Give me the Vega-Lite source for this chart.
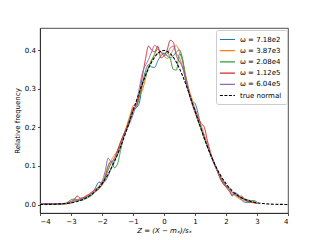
{
  "$schema": "https://vega.github.io/schema/vega-lite/v6.json",
  "autosize": {"type": "none"},
  "padding": {"left": 40, "top": 28, "right": 32, "bottom": 27},
  "width": 248,
  "height": 185,
  "background": "white",
  "config": {
    "font": "DejaVu Sans",
    "view": {"stroke": "#222", "strokeWidth": 0.8},
    "axis": {
      "grid": false,
      "domainColor": "#222",
      "domainWidth": 0.8,
      "tickColor": "#222",
      "tickWidth": 0.8,
      "tickSize": 2.5,
      "labelPadding": 2,
      "labelFontSize": 7,
      "labelColor": "#000",
      "titleFontSize": 7,
      "titleFontWeight": "normal",
      "titleColor": "#000"
    },
    "legend": {
      "orient": "top-right",
      "offset": 1.5,
      "padding": 5,
      "strokeColor": "#ccc",
      "fillColor": "white",
      "cornerRadius": 2,
      "symbolType": "M-1.6,0H2.7",
      "symbolSize": 49,
      "symbolStrokeWidth": 1.2,
      "labelFontSize": 7,
      "labelColor": "#000",
      "rowPadding": 3.2,
      "labelOffset": 10,
      "title": null
    }
  },
  "datasets": {
    "curves": [
      {"s":"ω = 7.18e2","x":-4,"y":0.002},{"s":"ω = 7.18e2","x":-3.5,"y":0.001},{"s":"ω = 7.18e2","x":-3.2,"y":0.002},
      {"s":"ω = 7.18e2","x":-3.0,"y":0.004},{"s":"ω = 7.18e2","x":-2.9,"y":0.007},{"s":"ω = 7.18e2","x":-2.8,"y":0.010},{"s":"ω = 7.18e2","x":-2.7,"y":0.012},{"s":"ω = 7.18e2","x":-2.6,"y":0.016},{"s":"ω = 7.18e2","x":-2.5,"y":0.020},{"s":"ω = 7.18e2","x":-2.4,"y":0.024},{"s":"ω = 7.18e2","x":-2.3,"y":0.030},{"s":"ω = 7.18e2","x":-2.2,"y":0.045},{"s":"ω = 7.18e2","x":-2.1,"y":0.058},{"s":"ω = 7.18e2","x":-2.0,"y":0.055},{"s":"ω = 7.18e2","x":-1.9,"y":0.060},{"s":"ω = 7.18e2","x":-1.8,"y":0.075},{"s":"ω = 7.18e2","x":-1.7,"y":0.095},{"s":"ω = 7.18e2","x":-1.6,"y":0.112},{"s":"ω = 7.18e2","x":-1.5,"y":0.135},{"s":"ω = 7.18e2","x":-1.4,"y":0.160},{"s":"ω = 7.18e2","x":-1.3,"y":0.180},{"s":"ω = 7.18e2","x":-1.2,"y":0.195},{"s":"ω = 7.18e2","x":-1.1,"y":0.215},{"s":"ω = 7.18e2","x":-1.0,"y":0.240},{"s":"ω = 7.18e2","x":-0.9,"y":0.250},{"s":"ω = 7.18e2","x":-0.8,"y":0.262},{"s":"ω = 7.18e2","x":-0.7,"y":0.310},{"s":"ω = 7.18e2","x":-0.6,"y":0.345},{"s":"ω = 7.18e2","x":-0.5,"y":0.362},{"s":"ω = 7.18e2","x":-0.4,"y":0.356},{"s":"ω = 7.18e2","x":-0.3,"y":0.355},{"s":"ω = 7.18e2","x":-0.2,"y":0.372},{"s":"ω = 7.18e2","x":-0.1,"y":0.385},{"s":"ω = 7.18e2","x":0.0,"y":0.392},{"s":"ω = 7.18e2","x":0.1,"y":0.385},{"s":"ω = 7.18e2","x":0.2,"y":0.380},{"s":"ω = 7.18e2","x":0.3,"y":0.385},{"s":"ω = 7.18e2","x":0.4,"y":0.395},{"s":"ω = 7.18e2","x":0.5,"y":0.400},{"s":"ω = 7.18e2","x":0.6,"y":0.375},{"s":"ω = 7.18e2","x":0.7,"y":0.320},{"s":"ω = 7.18e2","x":0.8,"y":0.290},{"s":"ω = 7.18e2","x":0.9,"y":0.268},{"s":"ω = 7.18e2","x":1.0,"y":0.262},{"s":"ω = 7.18e2","x":1.1,"y":0.235},{"s":"ω = 7.18e2","x":1.2,"y":0.200},{"s":"ω = 7.18e2","x":1.3,"y":0.178},{"s":"ω = 7.18e2","x":1.4,"y":0.150},{"s":"ω = 7.18e2","x":1.5,"y":0.130},{"s":"ω = 7.18e2","x":1.6,"y":0.110},{"s":"ω = 7.18e2","x":1.7,"y":0.090},{"s":"ω = 7.18e2","x":1.8,"y":0.072},{"s":"ω = 7.18e2","x":1.9,"y":0.058},{"s":"ω = 7.18e2","x":2.0,"y":0.050},{"s":"ω = 7.18e2","x":2.1,"y":0.042},{"s":"ω = 7.18e2","x":2.2,"y":0.022},{"s":"ω = 7.18e2","x":2.3,"y":0.030},{"s":"ω = 7.18e2","x":2.4,"y":0.025},{"s":"ω = 7.18e2","x":2.5,"y":0.012},{"s":"ω = 7.18e2","x":2.6,"y":0.006},{"s":"ω = 7.18e2","x":2.7,"y":0.005},{"s":"ω = 7.18e2","x":2.8,"y":0.006},{"s":"ω = 7.18e2","x":2.9,"y":0.005},{"s":"ω = 7.18e2","x":3.0,"y":0.003},

      {"s":"ω = 3.87e3","x":-4,"y":0.002},{"s":"ω = 3.87e3","x":-3.5,"y":0.002},{"s":"ω = 3.87e3","x":-3.2,"y":0.001},
      {"s":"ω = 3.87e3","x":-3.0,"y":0.005},{"s":"ω = 3.87e3","x":-2.9,"y":0.008},{"s":"ω = 3.87e3","x":-2.8,"y":0.012},{"s":"ω = 3.87e3","x":-2.7,"y":0.016},{"s":"ω = 3.87e3","x":-2.6,"y":0.018},{"s":"ω = 3.87e3","x":-2.5,"y":0.024},{"s":"ω = 3.87e3","x":-2.4,"y":0.026},{"s":"ω = 3.87e3","x":-2.3,"y":0.032},{"s":"ω = 3.87e3","x":-2.2,"y":0.040},{"s":"ω = 3.87e3","x":-2.1,"y":0.048},{"s":"ω = 3.87e3","x":-2.0,"y":0.058},{"s":"ω = 3.87e3","x":-1.9,"y":0.075},{"s":"ω = 3.87e3","x":-1.8,"y":0.100},{"s":"ω = 3.87e3","x":-1.7,"y":0.115},{"s":"ω = 3.87e3","x":-1.6,"y":0.128},{"s":"ω = 3.87e3","x":-1.5,"y":0.140},{"s":"ω = 3.87e3","x":-1.4,"y":0.160},{"s":"ω = 3.87e3","x":-1.3,"y":0.180},{"s":"ω = 3.87e3","x":-1.2,"y":0.205},{"s":"ω = 3.87e3","x":-1.1,"y":0.230},{"s":"ω = 3.87e3","x":-1.0,"y":0.255},{"s":"ω = 3.87e3","x":-0.9,"y":0.262},{"s":"ω = 3.87e3","x":-0.8,"y":0.280},{"s":"ω = 3.87e3","x":-0.7,"y":0.295},{"s":"ω = 3.87e3","x":-0.6,"y":0.325},{"s":"ω = 3.87e3","x":-0.5,"y":0.355},{"s":"ω = 3.87e3","x":-0.4,"y":0.375},{"s":"ω = 3.87e3","x":-0.3,"y":0.385},{"s":"ω = 3.87e3","x":-0.2,"y":0.392},{"s":"ω = 3.87e3","x":-0.1,"y":0.395},{"s":"ω = 3.87e3","x":0.0,"y":0.385},{"s":"ω = 3.87e3","x":0.1,"y":0.378},{"s":"ω = 3.87e3","x":0.2,"y":0.385},{"s":"ω = 3.87e3","x":0.3,"y":0.402},{"s":"ω = 3.87e3","x":0.4,"y":0.412},{"s":"ω = 3.87e3","x":0.5,"y":0.395},{"s":"ω = 3.87e3","x":0.6,"y":0.370},{"s":"ω = 3.87e3","x":0.7,"y":0.335},{"s":"ω = 3.87e3","x":0.8,"y":0.300},{"s":"ω = 3.87e3","x":0.9,"y":0.275},{"s":"ω = 3.87e3","x":1.0,"y":0.248},{"s":"ω = 3.87e3","x":1.1,"y":0.225},{"s":"ω = 3.87e3","x":1.2,"y":0.205},{"s":"ω = 3.87e3","x":1.3,"y":0.180},{"s":"ω = 3.87e3","x":1.4,"y":0.155},{"s":"ω = 3.87e3","x":1.5,"y":0.130},{"s":"ω = 3.87e3","x":1.6,"y":0.108},{"s":"ω = 3.87e3","x":1.7,"y":0.090},{"s":"ω = 3.87e3","x":1.8,"y":0.070},{"s":"ω = 3.87e3","x":1.9,"y":0.055},{"s":"ω = 3.87e3","x":2.0,"y":0.046},{"s":"ω = 3.87e3","x":2.1,"y":0.038},{"s":"ω = 3.87e3","x":2.2,"y":0.030},{"s":"ω = 3.87e3","x":2.3,"y":0.022},{"s":"ω = 3.87e3","x":2.4,"y":0.016},{"s":"ω = 3.87e3","x":2.5,"y":0.012},{"s":"ω = 3.87e3","x":2.6,"y":0.010},{"s":"ω = 3.87e3","x":2.7,"y":0.008},{"s":"ω = 3.87e3","x":2.8,"y":0.006},{"s":"ω = 3.87e3","x":2.9,"y":0.004},{"s":"ω = 3.87e3","x":3.0,"y":0.003},

      {"s":"ω = 2.08e4","x":-4,"y":0.002},{"s":"ω = 2.08e4","x":-3.5,"y":0.001},{"s":"ω = 2.08e4","x":-3.2,"y":0.002},
      {"s":"ω = 2.08e4","x":-3.0,"y":0.012},{"s":"ω = 2.08e4","x":-2.9,"y":0.014},{"s":"ω = 2.08e4","x":-2.8,"y":0.012},{"s":"ω = 2.08e4","x":-2.7,"y":0.010},{"s":"ω = 2.08e4","x":-2.6,"y":0.012},{"s":"ω = 2.08e4","x":-2.5,"y":0.016},{"s":"ω = 2.08e4","x":-2.4,"y":0.020},{"s":"ω = 2.08e4","x":-2.3,"y":0.026},{"s":"ω = 2.08e4","x":-2.2,"y":0.034},{"s":"ω = 2.08e4","x":-2.1,"y":0.040},{"s":"ω = 2.08e4","x":-2.0,"y":0.052},{"s":"ω = 2.08e4","x":-1.9,"y":0.072},{"s":"ω = 2.08e4","x":-1.8,"y":0.100},{"s":"ω = 2.08e4","x":-1.7,"y":0.112},{"s":"ω = 2.08e4","x":-1.6,"y":0.095},{"s":"ω = 2.08e4","x":-1.5,"y":0.105},{"s":"ω = 2.08e4","x":-1.4,"y":0.140},{"s":"ω = 2.08e4","x":-1.3,"y":0.175},{"s":"ω = 2.08e4","x":-1.2,"y":0.200},{"s":"ω = 2.08e4","x":-1.1,"y":0.225},{"s":"ω = 2.08e4","x":-1.0,"y":0.245},{"s":"ω = 2.08e4","x":-0.9,"y":0.250},{"s":"ω = 2.08e4","x":-0.8,"y":0.275},{"s":"ω = 2.08e4","x":-0.7,"y":0.310},{"s":"ω = 2.08e4","x":-0.6,"y":0.335},{"s":"ω = 2.08e4","x":-0.5,"y":0.355},{"s":"ω = 2.08e4","x":-0.4,"y":0.372},{"s":"ω = 2.08e4","x":-0.3,"y":0.390},{"s":"ω = 2.08e4","x":-0.2,"y":0.402},{"s":"ω = 2.08e4","x":-0.1,"y":0.395},{"s":"ω = 2.08e4","x":0.0,"y":0.390},{"s":"ω = 2.08e4","x":0.1,"y":0.395},{"s":"ω = 2.08e4","x":0.2,"y":0.378},{"s":"ω = 2.08e4","x":0.3,"y":0.350},{"s":"ω = 2.08e4","x":0.4,"y":0.348},{"s":"ω = 2.08e4","x":0.5,"y":0.390},{"s":"ω = 2.08e4","x":0.6,"y":0.375},{"s":"ω = 2.08e4","x":0.7,"y":0.330},{"s":"ω = 2.08e4","x":0.8,"y":0.295},{"s":"ω = 2.08e4","x":0.9,"y":0.265},{"s":"ω = 2.08e4","x":1.0,"y":0.240},{"s":"ω = 2.08e4","x":1.1,"y":0.215},{"s":"ω = 2.08e4","x":1.2,"y":0.195},{"s":"ω = 2.08e4","x":1.3,"y":0.170},{"s":"ω = 2.08e4","x":1.4,"y":0.150},{"s":"ω = 2.08e4","x":1.5,"y":0.128},{"s":"ω = 2.08e4","x":1.6,"y":0.110},{"s":"ω = 2.08e4","x":1.7,"y":0.092},{"s":"ω = 2.08e4","x":1.8,"y":0.075},{"s":"ω = 2.08e4","x":1.9,"y":0.060},{"s":"ω = 2.08e4","x":2.0,"y":0.048},{"s":"ω = 2.08e4","x":2.1,"y":0.040},{"s":"ω = 2.08e4","x":2.2,"y":0.032},{"s":"ω = 2.08e4","x":2.3,"y":0.025},{"s":"ω = 2.08e4","x":2.4,"y":0.020},{"s":"ω = 2.08e4","x":2.5,"y":0.018},{"s":"ω = 2.08e4","x":2.6,"y":0.015},{"s":"ω = 2.08e4","x":2.7,"y":0.012},{"s":"ω = 2.08e4","x":2.8,"y":0.010},{"s":"ω = 2.08e4","x":2.9,"y":0.010},{"s":"ω = 2.08e4","x":3.0,"y":0.006},

      {"s":"ω = 1.12e5","x":-4,"y":0.003},{"s":"ω = 1.12e5","x":-3.5,"y":0.002},{"s":"ω = 1.12e5","x":-3.2,"y":0.003},
      {"s":"ω = 1.12e5","x":-3.0,"y":0.008},{"s":"ω = 1.12e5","x":-2.9,"y":0.012},{"s":"ω = 1.12e5","x":-2.8,"y":0.022},{"s":"ω = 1.12e5","x":-2.7,"y":0.016},{"s":"ω = 1.12e5","x":-2.6,"y":0.018},{"s":"ω = 1.12e5","x":-2.5,"y":0.022},{"s":"ω = 1.12e5","x":-2.4,"y":0.028},{"s":"ω = 1.12e5","x":-2.3,"y":0.034},{"s":"ω = 1.12e5","x":-2.2,"y":0.040},{"s":"ω = 1.12e5","x":-2.1,"y":0.044},{"s":"ω = 1.12e5","x":-2.0,"y":0.050},{"s":"ω = 1.12e5","x":-1.9,"y":0.068},{"s":"ω = 1.12e5","x":-1.8,"y":0.090},{"s":"ω = 1.12e5","x":-1.7,"y":0.108},{"s":"ω = 1.12e5","x":-1.6,"y":0.120},{"s":"ω = 1.12e5","x":-1.5,"y":0.140},{"s":"ω = 1.12e5","x":-1.4,"y":0.162},{"s":"ω = 1.12e5","x":-1.3,"y":0.182},{"s":"ω = 1.12e5","x":-1.2,"y":0.200},{"s":"ω = 1.12e5","x":-1.1,"y":0.220},{"s":"ω = 1.12e5","x":-1.0,"y":0.250},{"s":"ω = 1.12e5","x":-0.9,"y":0.255},{"s":"ω = 1.12e5","x":-0.8,"y":0.285},{"s":"ω = 1.12e5","x":-0.7,"y":0.330},{"s":"ω = 1.12e5","x":-0.6,"y":0.375},{"s":"ω = 1.12e5","x":-0.5,"y":0.410},{"s":"ω = 1.12e5","x":-0.4,"y":0.400},{"s":"ω = 1.12e5","x":-0.3,"y":0.395},{"s":"ω = 1.12e5","x":-0.2,"y":0.410},{"s":"ω = 1.12e5","x":-0.1,"y":0.380},{"s":"ω = 1.12e5","x":0.0,"y":0.385},{"s":"ω = 1.12e5","x":0.1,"y":0.400},{"s":"ω = 1.12e5","x":0.2,"y":0.425},{"s":"ω = 1.12e5","x":0.3,"y":0.420},{"s":"ω = 1.12e5","x":0.4,"y":0.385},{"s":"ω = 1.12e5","x":0.5,"y":0.370},{"s":"ω = 1.12e5","x":0.6,"y":0.355},{"s":"ω = 1.12e5","x":0.7,"y":0.325},{"s":"ω = 1.12e5","x":0.8,"y":0.290},{"s":"ω = 1.12e5","x":0.9,"y":0.262},{"s":"ω = 1.12e5","x":1.0,"y":0.245},{"s":"ω = 1.12e5","x":1.1,"y":0.225},{"s":"ω = 1.12e5","x":1.2,"y":0.210},{"s":"ω = 1.12e5","x":1.3,"y":0.200},{"s":"ω = 1.12e5","x":1.4,"y":0.165},{"s":"ω = 1.12e5","x":1.5,"y":0.135},{"s":"ω = 1.12e5","x":1.6,"y":0.112},{"s":"ω = 1.12e5","x":1.7,"y":0.092},{"s":"ω = 1.12e5","x":1.8,"y":0.070},{"s":"ω = 1.12e5","x":1.9,"y":0.055},{"s":"ω = 1.12e5","x":2.0,"y":0.045},{"s":"ω = 1.12e5","x":2.1,"y":0.035},{"s":"ω = 1.12e5","x":2.2,"y":0.025},{"s":"ω = 1.12e5","x":2.3,"y":0.028},{"s":"ω = 1.12e5","x":2.4,"y":0.020},{"s":"ω = 1.12e5","x":2.5,"y":0.022},{"s":"ω = 1.12e5","x":2.6,"y":0.012},{"s":"ω = 1.12e5","x":2.7,"y":0.008},{"s":"ω = 1.12e5","x":2.8,"y":0.006},{"s":"ω = 1.12e5","x":2.9,"y":0.005},{"s":"ω = 1.12e5","x":3.0,"y":0.003},

      {"s":"ω = 6.04e5","x":-4,"y":0.002},{"s":"ω = 6.04e5","x":-3.5,"y":0.002},{"s":"ω = 6.04e5","x":-3.2,"y":0.002},
      {"s":"ω = 6.04e5","x":-3.0,"y":0.006},{"s":"ω = 6.04e5","x":-2.9,"y":0.010},{"s":"ω = 6.04e5","x":-2.8,"y":0.012},{"s":"ω = 6.04e5","x":-2.7,"y":0.014},{"s":"ω = 6.04e5","x":-2.6,"y":0.016},{"s":"ω = 6.04e5","x":-2.5,"y":0.020},{"s":"ω = 6.04e5","x":-2.4,"y":0.025},{"s":"ω = 6.04e5","x":-2.3,"y":0.030},{"s":"ω = 6.04e5","x":-2.2,"y":0.036},{"s":"ω = 6.04e5","x":-2.1,"y":0.045},{"s":"ω = 6.04e5","x":-2.0,"y":0.060},{"s":"ω = 6.04e5","x":-1.9,"y":0.085},{"s":"ω = 6.04e5","x":-1.8,"y":0.120},{"s":"ω = 6.04e5","x":-1.7,"y":0.110},{"s":"ω = 6.04e5","x":-1.6,"y":0.115},{"s":"ω = 6.04e5","x":-1.5,"y":0.128},{"s":"ω = 6.04e5","x":-1.4,"y":0.150},{"s":"ω = 6.04e5","x":-1.3,"y":0.175},{"s":"ω = 6.04e5","x":-1.2,"y":0.195},{"s":"ω = 6.04e5","x":-1.1,"y":0.212},{"s":"ω = 6.04e5","x":-1.0,"y":0.232},{"s":"ω = 6.04e5","x":-0.9,"y":0.260},{"s":"ω = 6.04e5","x":-0.8,"y":0.300},{"s":"ω = 6.04e5","x":-0.7,"y":0.340},{"s":"ω = 6.04e5","x":-0.6,"y":0.360},{"s":"ω = 6.04e5","x":-0.5,"y":0.375},{"s":"ω = 6.04e5","x":-0.4,"y":0.395},{"s":"ω = 6.04e5","x":-0.3,"y":0.412},{"s":"ω = 6.04e5","x":-0.2,"y":0.405},{"s":"ω = 6.04e5","x":-0.1,"y":0.395},{"s":"ω = 6.04e5","x":0.0,"y":0.385},{"s":"ω = 6.04e5","x":0.1,"y":0.390},{"s":"ω = 6.04e5","x":0.2,"y":0.405},{"s":"ω = 6.04e5","x":0.3,"y":0.410},{"s":"ω = 6.04e5","x":0.4,"y":0.390},{"s":"ω = 6.04e5","x":0.5,"y":0.380},{"s":"ω = 6.04e5","x":0.6,"y":0.355},{"s":"ω = 6.04e5","x":0.7,"y":0.325},{"s":"ω = 6.04e5","x":0.8,"y":0.295},{"s":"ω = 6.04e5","x":0.9,"y":0.262},{"s":"ω = 6.04e5","x":1.0,"y":0.238},{"s":"ω = 6.04e5","x":1.1,"y":0.220},{"s":"ω = 6.04e5","x":1.2,"y":0.198},{"s":"ω = 6.04e5","x":1.3,"y":0.175},{"s":"ω = 6.04e5","x":1.4,"y":0.152},{"s":"ω = 6.04e5","x":1.5,"y":0.130},{"s":"ω = 6.04e5","x":1.6,"y":0.108},{"s":"ω = 6.04e5","x":1.7,"y":0.090},{"s":"ω = 6.04e5","x":1.8,"y":0.075},{"s":"ω = 6.04e5","x":1.9,"y":0.062},{"s":"ω = 6.04e5","x":2.0,"y":0.050},{"s":"ω = 6.04e5","x":2.1,"y":0.040},{"s":"ω = 6.04e5","x":2.2,"y":0.032},{"s":"ω = 6.04e5","x":2.3,"y":0.026},{"s":"ω = 6.04e5","x":2.4,"y":0.020},{"s":"ω = 6.04e5","x":2.5,"y":0.016},{"s":"ω = 6.04e5","x":2.6,"y":0.012},{"s":"ω = 6.04e5","x":2.7,"y":0.010},{"s":"ω = 6.04e5","x":2.8,"y":0.008},{"s":"ω = 6.04e5","x":2.9,"y":0.006},{"s":"ω = 6.04e5","x":3.0,"y":0.004}
    ],
    "normal": [
      {"s":"true normal","x":-4.0,"y":0.0001},{"s":"true normal","x":-3.8,"y":0.0003},{"s":"true normal","x":-3.6,"y":0.0006},{"s":"true normal","x":-3.4,"y":0.0012},{"s":"true normal","x":-3.2,"y":0.0024},{"s":"true normal","x":-3.0,"y":0.0044},{"s":"true normal","x":-2.8,"y":0.0079},{"s":"true normal","x":-2.6,"y":0.0136},{"s":"true normal","x":-2.4,"y":0.0224},{"s":"true normal","x":-2.2,"y":0.0355},{"s":"true normal","x":-2.0,"y":0.0540},{"s":"true normal","x":-1.8,"y":0.0790},{"s":"true normal","x":-1.6,"y":0.1109},{"s":"true normal","x":-1.4,"y":0.1497},{"s":"true normal","x":-1.2,"y":0.1942},{"s":"true normal","x":-1.0,"y":0.2420},{"s":"true normal","x":-0.8,"y":0.2897},{"s":"true normal","x":-0.6,"y":0.3332},{"s":"true normal","x":-0.4,"y":0.3683},{"s":"true normal","x":-0.2,"y":0.3910},{"s":"true normal","x":0.0,"y":0.3989},{"s":"true normal","x":0.2,"y":0.3910},{"s":"true normal","x":0.4,"y":0.3683},{"s":"true normal","x":0.6,"y":0.3332},{"s":"true normal","x":0.8,"y":0.2897},{"s":"true normal","x":1.0,"y":0.2420},{"s":"true normal","x":1.2,"y":0.1942},{"s":"true normal","x":1.4,"y":0.1497},{"s":"true normal","x":1.6,"y":0.1109},{"s":"true normal","x":1.8,"y":0.0790},{"s":"true normal","x":2.0,"y":0.0540},{"s":"true normal","x":2.2,"y":0.0355},{"s":"true normal","x":2.4,"y":0.0224},{"s":"true normal","x":2.6,"y":0.0136},{"s":"true normal","x":2.8,"y":0.0079},{"s":"true normal","x":3.0,"y":0.0044},{"s":"true normal","x":3.2,"y":0.0024},{"s":"true normal","x":3.4,"y":0.0012},{"s":"true normal","x":3.6,"y":0.0006},{"s":"true normal","x":3.8,"y":0.0003},{"s":"true normal","x":4.0,"y":0.0001}
    ]
  },
  "encoding": {
    "x": {"field": "x", "type": "quantitative", "scale": {"domain": [-4, 4], "nice": false, "zero": false},
          "axis": {"values": [-4,-3,-2,-1,0,1,2,3,4], "format": "d", "title": "Z = (X − mₓ)/sₓ", "titleFontStyle": "italic", "titlePadding": 2}},
    "y": {"field": "y", "type": "quantitative", "scale": {"domain": [-0.022, 0.457], "nice": false, "zero": false},
          "axis": {"values": [0, 0.1, 0.2, 0.3, 0.4], "format": ".1f", "title": "Relative frequency", "titlePadding": 4}},
    "color": {"field": "s", "type": "nominal",
      "scale": {"domain": ["ω = 7.18e2","ω = 3.87e3","ω = 2.08e4","ω = 1.12e5","ω = 6.04e5","true normal"],
                "range": ["#1f77b4","#ff7f0e","#2ca02c","#d62728","#9467bd","#000000"]}},
    "strokeDash": {"field": "s", "type": "nominal",
      "scale": {"domain": ["ω = 7.18e2","ω = 3.87e3","ω = 2.08e4","ω = 1.12e5","ω = 6.04e5","true normal"],
                "range": [[1,0],[1,0],[1,0],[1,0],[1,0],[3,1.5]]}}
  },
  "layer": [
    {"data": {"name": "curves"}, "mark": {"type": "line", "strokeWidth": 1, "interpolate": "monotone"}},
    {"data": {"name": "normal"}, "mark": {"type": "line", "strokeWidth": 1.1, "interpolate": "monotone"}}
  ]
}
